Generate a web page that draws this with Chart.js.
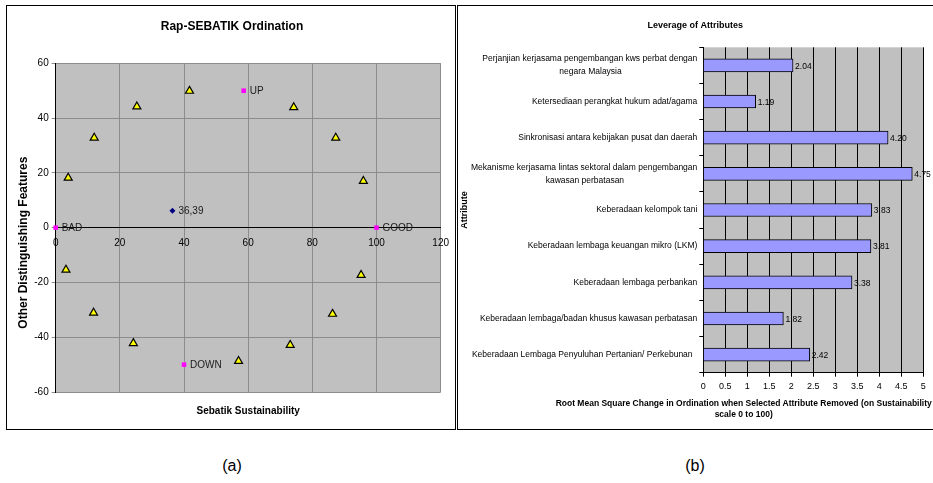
<!DOCTYPE html>
<html>
<head>
<meta charset="utf-8">
<script src="https://cdn.jsdelivr.net/npm/chart.js@4.4.0/dist/chart.umd.min.js"></script>
<style>
  body { margin: 0; width: 933px; height: 483px; overflow: hidden; background: #fff; position: relative;
         font-family: 'Liberation Sans', Arial, sans-serif; color: #000; }
  .panel { position: absolute; border: 1px solid #000; background: #fff; }
  #panelA { left: 6px; top: 5px; width: 448px; height: 423px; }
  #panelB { left: 457px; top: 5px; width: 480px; height: 423px; }
  canvas { position: absolute; left: 0; top: 0; }
  .caption { position: absolute; top: 456px; width: 60px; text-align: center; font-size: 16px; line-height: 20px; }
  #xTitleB { position: absolute; left: 443.7px; top: 397.8px; width: 600px; text-align: center; font-weight: bold;
             font-size: 8.5px; line-height: 11px; white-space: nowrap; }
</style>
</head>
<body>
<div class="panel" id="panelA"><canvas id="ordChart" width="448" height="423"></canvas></div>
<div class="panel" id="panelB"><canvas id="leverageChart" width="475" height="423"></canvas></div>
<div id="xTitleB">Root Mean Square Change in Ordination when Selected Attribute Removed (on Sustainability<br>scale 0 to 100)</div>
<div class="caption" style="left:202px">(a)</div>
<div class="caption" style="left:665px">(b)</div>

<script>
// (a) ordination points
const attrX = [3.9, 12.0, 25.3, 41.7, 74.2, 87.3, 95.9, 3.2, 11.8, 24.2, 57.0, 73.1, 86.3, 95.2];
const attrY = [18.2, 32.8, 44.2, 49.9, 43.9, 32.8, 17.0, -15.4, -31.1, -42.2, -48.7, -42.9, -31.5, -17.3];
const refLabels = ['BAD', 'GOOD', 'UP', 'DOWN'];
const refX = [0, 100, 58.6, 40];
const refY = [0, 0, 50, -50];
const statusLabels = ['36,39'];
const statusX = [36.39];
const statusY = [6.2];

// (b) leverage of attributes
const attrLabels = [
    ['Perjanjian kerjasama pengembangan kws perbat dengan', 'negara Malaysia'],
    'Ketersediaan perangkat hukum adat/agama',
    'Sinkronisasi antara kebijakan pusat dan daerah',
    ['Mekanisme kerjasama lintas sektoral dalam pengembangan', 'kawasan perbatasan'],
    'Keberadaan kelompok tani',
    'Keberadaan lembaga keuangan mikro (LKM)',
    'Keberadaan lembaga perbankan',
    'Keberadaan lembaga/badan khusus kawasan perbatasan',
    'Keberadaan Lembaga Penyuluhan Pertanian/ Perkebunan\u00a0\u00a0'
];
const leverage = [2.04, 1.19, 4.20, 4.75, 3.83, 3.81, 3.38, 1.82, 2.42];
const leverageTicks = ['0', '0.5', '1', '1.5', '2', '2.5', '3', '3.5', '4', '4.5', '5'];

const FONT = "'Liberation Sans', Arial, sans-serif";
Chart.defaults.font.family = FONT;
Chart.defaults.color = '#000';

// Fill the plot area grey
const plotBg = {
    id: 'plotBg',
    beforeDraw(chart, args, opts) {
        const { ctx, chartArea: a } = chart;
        ctx.save();
        ctx.fillStyle = opts.color || '#c0c0c0';
        ctx.fillRect(a.left, a.top, a.right - a.left, a.bottom - a.top);
        ctx.restore();
    }
};

// Text next to points that carry a pointText list
const pointText = {
    id: 'pointText',
    afterDatasetsDraw(chart) {
        const ctx = chart.ctx;
        chart.data.datasets.forEach((ds, i) => {
            if (!ds.pointText) return;
            ctx.save();
            ctx.font = '10px ' + FONT;
            ctx.fillStyle = '#1a1a1a';
            ctx.textBaseline = 'middle';
            chart.getDatasetMeta(i).data.forEach((pt, j) => {
                ctx.fillText(ds.pointText[j], pt.x + 6, pt.y + 0.5);
            });
            ctx.restore();
        });
    }
};

// Value at the end of each bar
const barValues = {
    id: 'barValues',
    afterDatasetsDraw(chart) {
        const ctx = chart.ctx;
        ctx.save();
        ctx.font = '8.5px ' + FONT;
        ctx.fillStyle = '#000';
        ctx.textBaseline = 'middle';
        chart.getDatasetMeta(0).data.forEach((bar, i) => {
            ctx.fillText(leverage[i].toFixed(2), bar.x + 2, bar.y + 1);
        });
        ctx.restore();
    }
};

// Centre the lines of a multi-line label (labels are drawn right-aligned)
function centerLines(label, font) {
    if (!Array.isArray(label)) return label;
    const ctx = document.createElement('canvas').getContext('2d');
    ctx.font = font;
    const widths = label.map(s => ctx.measureText(s).width);
    const max = Math.max(...widths);
    const sp = ctx.measureText('\u00a0').width;
    return label.map((s, k) => s + '\u00a0'.repeat(Math.round((max - widths[k]) / 2 / sp)));
}

new Chart(document.getElementById('ordChart'), {
    type: 'scatter',
    data: {
        datasets: [{
            label: 'Attributes',
            data: attrX.map((x, i) => ({ x: x, y: attrY[i] })),
            pointStyle: 'triangle',
            radius: 4.6,
            backgroundColor: '#ffff00',
            borderColor: '#000',
            borderWidth: 1.2
        }, {
            label: 'Reference',
            data: refX.map((x, i) => ({ x: x, y: refY[i] })),
            pointStyle: 'rect',
            radius: 3.2,
            backgroundColor: '#ff00ff',
            borderColor: '#ff00ff',
            borderWidth: 0,
            pointText: refLabels
        }, {
            label: 'Status',
            data: statusX.map((x, i) => ({ x: x, y: statusY[i] })),
            pointStyle: 'rectRot',
            radius: 3,
            backgroundColor: '#000080',
            borderColor: '#000080',
            borderWidth: 0,
            pointText: statusLabels
        }]
    },
    options: {
        responsive: false,
        animation: false,
        clip: false,
        layout: { padding: { left: 16.3, right: 14.3 } },
        plugins: {
            legend: { display: false },
            tooltip: { enabled: false },
            plotBg: { color: '#c0c0c0' },
            title: {
                display: true,
                text: 'Rap-SEBATIK Ordination',
                color: '#000',
                font: { size: 12, weight: 'bold' },
                padding: { top: 13, bottom: 29.9 }
            }
        },
        scales: {
            x: {
                type: 'linear',
                position: { y: 0 },
                min: 0,
                max: 120,
                ticks: { stepSize: 20, font: { size: 10 }, color: '#000', padding: 6 },
                grid: { color: '#8c8c8c', tickLength: 4 },
                border: { color: '#000' }
            },
            y: {
                min: -60,
                max: 60,
                ticks: { stepSize: 20, font: { size: 10 }, color: '#000', padding: 3 },
                grid: { color: '#8c8c8c', tickLength: 4 },
                border: { color: '#000' },
                title: {
                    display: true,
                    text: 'Other Distinguishing Features' + '\u00a0'.repeat(9),
                    color: '#000',
                    font: { size: 12, weight: 'bold' },
                    padding: { top: -6.6, bottom: 0 }
                },
                afterFit(scale) { scale.width = 32.4; }
            },
            x2: {
                type: 'linear',
                position: 'bottom',
                ticks: { display: false },
                grid: { display: false },
                border: { display: false },
                title: {
                    display: true,
                    text: 'Sebatik Sustainability',
                    color: '#000',
                    font: { size: 10, weight: 'bold' },
                    padding: { top: 0, bottom: 12 }
                },
                afterFit(scale) { scale.height = 37; }
            }
        }
    },
    plugins: [plotBg, pointText]
});

const tickFont = '8.5px ' + FONT;

new Chart(document.getElementById('leverageChart'), {
    type: 'bar',
    data: {
        labels: attrLabels.map(l => centerLines(l, tickFont)),
        datasets: [{
            label: 'Leverage',
            data: leverage,
            backgroundColor: '#9999ff',
            borderColor: '#000',
            borderWidth: 1,
            barThickness: 13
        }]
    },
    options: {
        indexAxis: 'y',
        responsive: false,
        animation: false,
        layout: { padding: { left: 9.1, right: 9.7 } },
        plugins: {
            legend: { display: false },
            tooltip: { enabled: false },
            plotBg: { color: '#c0c0c0' },
            title: {
                display: true,
                text: 'Leverage of Attributes',
                color: '#000',
                font: { size: 9, weight: 'bold' },
                padding: { top: 14.4, bottom: 16.1 }
            }
        },
        scales: {
            x: {
                min: 0,
                max: 5,
                ticks: {
                    stepSize: 0.5,
                    font: { size: 9 },
                    color: '#000',
                    padding: 4,
                    callback: (value, i) => leverageTicks[i]
                },
                grid: { color: '#000', tickLength: 4 },
                border: { color: '#000' },
                afterFit(scale) { scale.height = 56.3; }
            },
            y: {
                ticks: { font: { size: 8.5, lineHeight: 1.55 }, color: '#000', padding: 2, autoSkip: false },
                grid: { drawOnChartArea: false, color: '#000', tickLength: 4, offset: true },
                border: { color: '#000' },
                title: {
                    display: true,
                    text: 'Attribute',
                    color: '#000',
                    font: { size: 9, weight: 'bold' },
                    padding: { top: -7.5, bottom: 0 }
                },
                afterFit(scale) { scale.width = 236.2; }
            }
        }
    },
    plugins: [plotBg, barValues]
});
</script>
</body>
</html>
